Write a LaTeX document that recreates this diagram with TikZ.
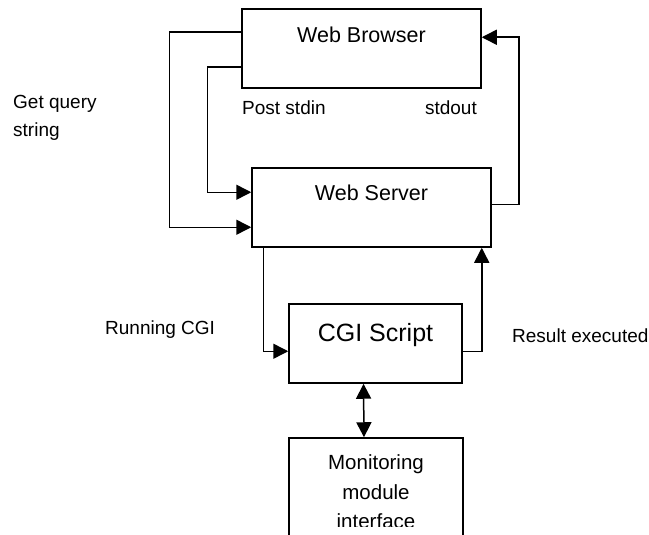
\documentclass[tikz,border=0pt]{standalone}
\usepackage{fontspec}
\setmainfont{Liberation Sans}
\usetikzlibrary{arrows.meta,positioning}

\begin{document}
\begin{tikzpicture}[
    x=1pt, y=-1pt,
    box/.style={rectangle, draw=black, line width=1.5pt, minimum width=239pt, minimum height=79pt, inner sep=0pt},
    title/.style={inner sep=0pt, font=\fontsize{21.5}{26}\selectfont},
    lbl/.style={inner sep=0pt, font=\fontsize{19}{28}\selectfont},
    arr/.style={-{Triangle[length=15pt, width=15pt]}, line width=1.5pt},
    dbl/.style={{Triangle[length=15pt, width=15pt]}-{Triangle[length=15pt, width=15pt]}, line width=1.5pt}
]
    \path [use as bounding box, clip] (0,0) rectangle (649,535);

    % boxes
    \node [box] (wb) at (361.5,48.5) {};
    \node [box] (ws) at (371.5,207.5) {};
    \node [box, minimum width=173pt] (cgi) at (375.5,343.5) {};
    \node [box, minimum width=174pt, minimum height=120pt] (mon) at (376,498) {};

    \node [title, below=18pt of wb.north] (wbtext) {Web Browser};
    \node [title, below=17pt of ws.north] (wstext) {Web Server};
    \node [title, font=\fontsize{25}{30}\selectfont, below=20pt of cgi.north] (cgitext) {CGI Script};
    % last line runs off the page
    \begin{scope}
        \clip (0,0) rectangle (649,526);
        \node [title, font=\fontsize{20.5}{29.5}\selectfont, align=center, below=17.5pt of mon.north] (montext) {Monitoring\\module\\interface};
    \end{scope}

    % labels
    \node [lbl, align=left, anchor=north west] (query) at (13,95) {Get query\\string};
    \node [lbl, anchor=base west] (post) at (242,114) {Post stdin};
    \node [lbl, anchor=base east] (out) at (477,114) {stdout};
    \node [lbl, anchor=base west] (run) at (105,334) {Running CGI};
    \node [lbl, anchor=base west] (res) at (512,342) {Result executed};

    % connectors
    \draw [arr] ([yshift=-24pt]wb.north west) -- ++(-72,0) |- ([yshift=-60pt]ws.north west);
    \draw [arr] ([yshift=-59pt]wb.north west) -- ++(-34,0) |- ([yshift=-25pt]ws.north west);
    \draw [arr] ([yshift=-37pt]ws.north east) -- ++(27,0) |- ([yshift=-29pt]wb.north east);
    \draw [arr] ([xshift=12pt]ws.south west) |- ([yshift=-48pt]cgi.north west);
    \draw [arr] ([yshift=-48pt]cgi.north east) -| ([xshift=-10pt]ws.south east);
    \draw [dbl] ([xshift=-12pt]cgi.south) -- ([xshift=-12pt]mon.north);
\end{tikzpicture}
\end{document}
